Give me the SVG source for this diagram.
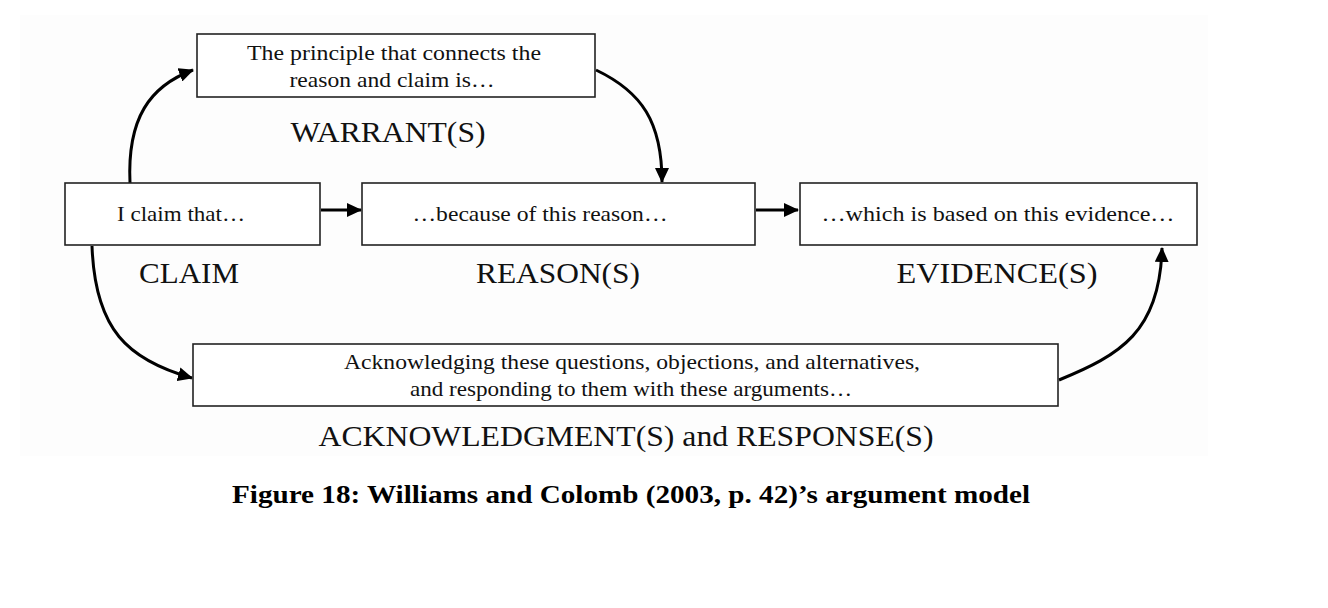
<svg xmlns="http://www.w3.org/2000/svg" width="1328" height="608" viewBox="0 0 1328 608">
<style>
.box{fill:#fff;stroke:#222;stroke-width:1.6}
.t{font-family:"Liberation Serif","Times New Roman",serif;font-size:21px;fill:#111;text-anchor:middle}
.lbl{font-family:"Liberation Serif","Times New Roman",serif;font-size:30px;fill:#111;text-anchor:middle}
.cap{font-family:"Liberation Serif","Times New Roman",serif;font-size:26px;font-weight:bold;fill:#000;text-anchor:middle}
.c{fill:none;stroke:#000;stroke-width:3}
</style>
<defs>
<marker id="ah" markerUnits="userSpaceOnUse" markerWidth="16" markerHeight="14" refX="14" refY="7" orient="auto" viewBox="0 0 16 14">
<path d="M0,0 L15,7 L0,14 Z" fill="#000"/>
</marker>
</defs>
<rect x="0" y="0" width="1328" height="608" fill="#fff"/>
<rect x="20" y="15" width="1188" height="441" fill="#fdfdfd"/>

<g id="connectors">
<path class="c" d="M130,183 C127,118 150,86 193,70" marker-end="url(#ah)"/>
<path class="c" d="M596,70 C642,92 662,122 662,182" marker-end="url(#ah)"/>
<path class="c" d="M321,210 L361,210" marker-end="url(#ah)"/>
<path class="c" d="M756,210 L798,210" marker-end="url(#ah)"/>
<path class="c" d="M92,246 C95,330 128,360 192,378" marker-end="url(#ah)"/>
<path class="c" d="M1059,380 C1120,355 1160,332 1162,248" marker-end="url(#ah)"/>
</g>

<g id="warrant">
<rect class="box" x="197" y="34" width="398" height="63"/>
<text class="t" x="394" y="60" textLength="294" lengthAdjust="spacingAndGlyphs">The principle that connects the</text>
<text class="t" x="392" y="87" textLength="205" lengthAdjust="spacingAndGlyphs">reason and claim is…</text>
<text class="lbl" x="388" y="142" textLength="195" lengthAdjust="spacingAndGlyphs">WARRANT(S)</text>
</g>

<g id="claim">
<rect class="box" x="65" y="183" width="255" height="62"/>
<text class="t" x="181" y="221" textLength="128" lengthAdjust="spacingAndGlyphs">I claim that…</text>
<text class="lbl" x="189" y="283" textLength="100" lengthAdjust="spacingAndGlyphs">CLAIM</text>
</g>

<g id="reason">
<rect class="box" x="362" y="183" width="393" height="62"/>
<text class="t" x="540" y="221" textLength="255" lengthAdjust="spacingAndGlyphs">…because of this reason…</text>
<text class="lbl" x="558" y="283" textLength="164" lengthAdjust="spacingAndGlyphs">REASON(S)</text>
</g>

<g id="evidence">
<rect class="box" x="800" y="183" width="397" height="62"/>
<text class="t" x="998" y="221" textLength="353" lengthAdjust="spacingAndGlyphs">…which is based on this evidence…</text>
<text class="lbl" x="997" y="283" textLength="201" lengthAdjust="spacingAndGlyphs">EVIDENCE(S)</text>
</g>

<g id="acknowledgment">
<rect class="box" x="193" y="344" width="865" height="62"/>
<text class="t" x="632" y="369" textLength="576" lengthAdjust="spacingAndGlyphs">Acknowledging these questions, objections, and alternatives,</text>
<text class="t" x="631" y="396" textLength="442" lengthAdjust="spacingAndGlyphs">and responding to them with these arguments…</text>
<text class="lbl" x="626" y="446" textLength="615" lengthAdjust="spacingAndGlyphs">ACKNOWLEDGMENT(S) and RESPONSE(S)</text>
</g>

<g id="caption">
<text class="cap" x="631" y="503" textLength="798" lengthAdjust="spacingAndGlyphs">Figure 18: Williams and Colomb (2003, p. 42)’s argument model</text>
</g>
</svg>
